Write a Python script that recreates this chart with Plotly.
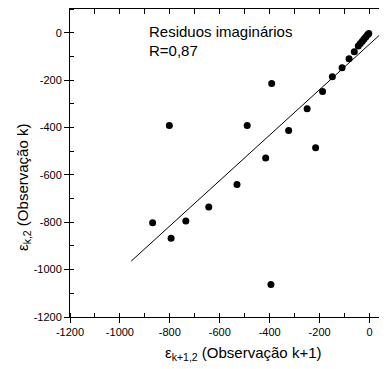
import plotly.graph_objects as go

# Data
x_obs_k1 = [-869, -802, -795, -736, -644, -531, -490, -416, -395, -392, -324, -250,
            -216, -188, -149, -110, -82, -61, -45, -37, -29, -22, -15, -8, -3]
y_obs_k = [-802, -392, -868, -795, -736, -641, -392, -529, -1063, -214, -413, -321,
           -486, -248, -186, -148, -110, -80, -56, -46, -36, -27, -18, -9, -3]

fit_slope = 0.959
fit_intercept = -48.5
fit_x = [-955, 100]

x_range = [-1200, 70]
y_range = [-1200, 100]
x_ticks = [-1200, -1000, -800, -600, -400, -200, 0]
y_ticks = [-1200, -1000, -800, -600, -400, -200, 0]

# page has an 8px body margin; compensate so the plot lands where the reference has it
OFF = 8
W, H = 387 - OFF, 369 - OFF
ML, MR, MT, MB = 70 - OFF, 0, 9 - OFF, 52
PW, PH = W - ML - MR, H - MT - MB


def px(xp):
    return (xp - OFF - ML) / PW


def py(yp):
    return (H - MB - (yp - OFF)) / PH


font_tick = dict(family="Liberation Sans, Arial", size=11, color="black")
font_lbl = dict(family="Liberation Sans, Arial", size=15, color="black")

fig = go.Figure()
fig.add_trace(go.Scatter(
    x=x_obs_k1, y=y_obs_k, mode="markers",
    marker=dict(color="black", size=7, line=dict(width=0)),
    showlegend=False, hoverinfo="skip"))
fig.add_trace(go.Scatter(
    x=fit_x, y=[fit_intercept + fit_slope * v for v in fit_x], mode="lines",
    line=dict(color="black", width=1), showlegend=False, hoverinfo="skip"))
# dummy trace for the top mirror axis
fig.add_trace(go.Scatter(x=[x_range[0]], y=[y_range[0]], xaxis="x2", mode="markers",
                         marker=dict(opacity=0), showlegend=False, hoverinfo="skip"))

axis_common = dict(showgrid=False, zeroline=False, showline=True, linecolor="black",
                   linewidth=1, ticks="outside", ticklen=5, tickwidth=1, tickcolor="black",
                   tickfont=font_tick, automargin=False)

fig.update_layout(
    width=W, height=H,
    margin=dict(l=ML, r=MR, t=MT, b=MB, pad=0, autoexpand=False),
    paper_bgcolor="white", plot_bgcolor="white",
    xaxis=dict(range=x_range, tickvals=x_ticks, ticktext=[str(v) for v in x_ticks],
               minor=dict(dtick=100, tick0=0, ticks="inside", ticklen=4, tickcolor="black"),
               **axis_common),
    xaxis2=dict(range=x_range, overlaying="x", side="top", anchor="y", showgrid=False,
                zeroline=False, showline=True, linecolor="black", linewidth=1,
                ticks="inside", ticklen=5, dtick=100, tick0=0, tickcolor="black",
                showticklabels=False, automargin=False),
    yaxis=dict(range=y_range, tickvals=y_ticks, ticktext=[str(v) for v in y_ticks],
               minor=dict(dtick=100, tick0=0, ticks="inside", ticklen=4, tickcolor="black"),
               **axis_common),
    annotations=[
        dict(text="Residuos imaginários", x=px(147), y=py(31.5), xref="paper", yref="paper",
             xanchor="left", yanchor="middle", showarrow=False, font=font_lbl),
        dict(text="R=0,87", x=px(147), y=py(50.5), xref="paper", yref="paper",
             xanchor="left", yanchor="middle", showarrow=False, font=font_lbl),
        dict(text="ε<sub>k+1,2</sub> (Observação k+1)", x=px(243), y=py(353),
             xref="paper", yref="paper", xanchor="center", yanchor="middle",
             showarrow=False, font=font_lbl),
        dict(text="ε<sub>k,2</sub> (Observação k)", x=px(23), y=py(188),
             xref="paper", yref="paper", xanchor="center", yanchor="middle",
             textangle=-90, showarrow=False, font=font_lbl),
    ],
)

fig.write_html("out.html")
